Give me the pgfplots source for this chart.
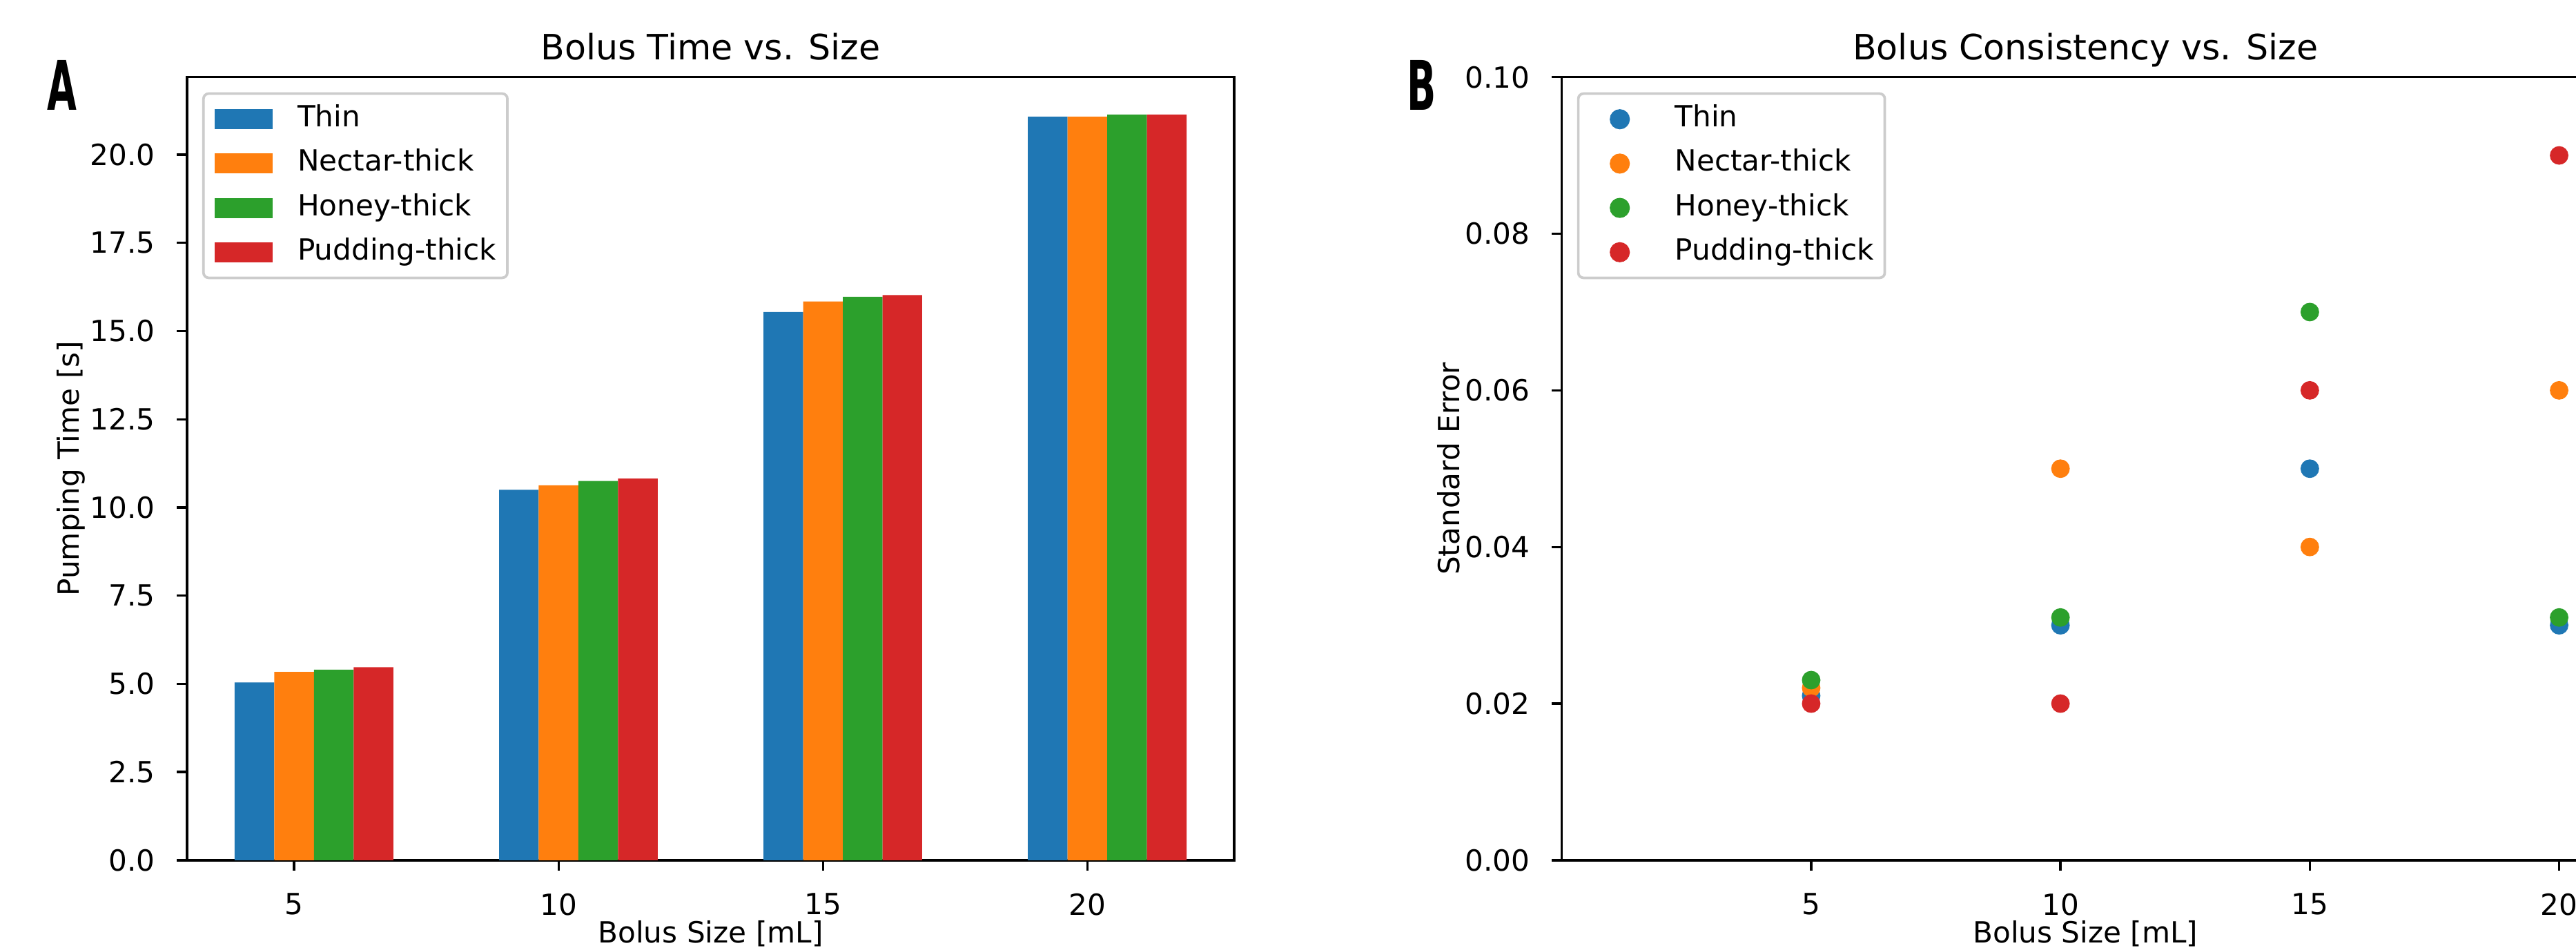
\documentclass[border=0pt]{standalone}
\usepackage{fontspec}
\setmainfont{DejaVu Sans}
\usepackage{pgfplots}
\pgfplotsset{compat=1.18}
\definecolor{c0}{HTML}{1F77B4}
\definecolor{c1}{HTML}{FF7F0E}
\definecolor{c2}{HTML}{2CA02C}
\definecolor{c3}{HTML}{D62728}
\newcommand{\fs}{\fontsize{11.3}{13.6}\selectfont}
\newcommand{\fst}{\fontsize{13.56}{16.3}\selectfont}
\pgfplotsset{
  barlegend/.style={legend image code/.code={\fill[##1, sharp corners] (0pt,-3.9pt) rectangle (22.6pt,3.9pt);}},
  dotlegend/.style={legend image code/.code={\path (0pt,0pt) (22.6pt,0pt);\draw[mark repeat=2, mark phase=2, ##1] plot coordinates {(0pt,0pt) (11.3pt,0pt) (22.6pt,0pt)};}},
  mpl/.style={
    scale only axis, width=406.5pt, height=303.9pt, anchor=south west,
    axis line style={line width=0.9pt, black},
    tick align=outside, major tick length=3.96pt,
    every tick/.style={black, line width=0.9pt},
    xtick pos=bottom, ytick pos=left,
    tick label style={font=\fs},
    /pgf/number format/assume math mode=true,
    xticklabel style={inner sep=0pt, anchor=north, yshift=-8.8pt},
    yticklabel style={inner sep=0pt, anchor=east, xshift=-8.3pt},
    xlabel style={font=\fs, at={(axis description cs:0.5,-0.0767)}, anchor=north, inner sep=0pt},
    ylabel style={font=\fs, at={(axis description cs:-0.0969,0.5)}, anchor=south, inner sep=0pt},
    every axis title shift=0pt,
    title style={font=\fst, at={(axis description cs:0.5,1.0224)}, anchor=base, inner sep=0pt},
    legend cell align=left,
    legend style={at={(axis description cs:0,1)}, anchor=north west, xshift=5.9pt, yshift=-5.9pt,
      draw=black!20, rounded corners=2pt, fill=white, line width=1pt,
      inner xsep=4.3pt, inner ysep=4.3pt, row sep=5.9pt, column sep=9.6pt, font=\fs,
      nodes={inner sep=0pt, text height=8.6pt, text depth=2.7pt}},
    scaled ticks=false,
  }
}
\begin{document}
\begin{tikzpicture}[x=1pt,y=1pt]
\begin{axis}[mpl, at={(72.6pt,33.8pt)},
  xmin=2.975, xmax=22.775, ymin=0, ymax=22.2,
  xtick={5,10,15,20},
  ytick={0,2.5,5,7.5,10,12.5,15,17.5,20},
  yticklabel style={/pgf/number format/.cd, fixed, fixed zerofill, precision=1},
  title={Bolus Time vs. Size},
  xlabel={Bolus Size [mL]},
  ylabel={Pumping Time [s]},
]
\addplot[ybar, bar width=0.75, bar shift=-0.75, fill=c0, draw=none, barlegend]
  coordinates {(5,5.04) (10,10.50) (15,15.54) (20,21.08)};
\addlegendentry{Thin}
\addplot[ybar, bar width=0.75, bar shift=0, fill=c1, draw=none, barlegend]
  coordinates {(5,5.34) (10,10.63) (15,15.84) (20,21.08)};
\addlegendentry{Nectar-thick}
\addplot[ybar, bar width=0.75, bar shift=0.75, fill=c2, draw=none, barlegend]
  coordinates {(5,5.40) (10,10.75) (15,15.97) (20,21.14)};
\addlegendentry{Honey-thick}
\addplot[ybar, bar width=0.75, bar shift=1.5, fill=c3, draw=none, barlegend]
  coordinates {(5,5.47) (10,10.82) (15,16.02) (20,21.14)};
\addlegendentry{Pudding-thick}
\end{axis}
\begin{axis}[mpl, at={(606.3pt,33.8pt)},
  xmin=0, xmax=21, ymin=0, ymax=0.1,
  xtick={5,10,15,20},
  ytick={0,0.02,0.04,0.06,0.08,0.1},
  yticklabel style={/pgf/number format/.cd, fixed, fixed zerofill, precision=2},
  title={Bolus Consistency vs. Size},
  xlabel={Bolus Size [mL]},
  ylabel={Standard Error},
]
\addplot[only marks, mark=*, color=c0, mark size=3.4pt, mark options={draw=none, fill=c0}, dotlegend]
  coordinates {(5,0.021) (10,0.030) (15,0.050) (20,0.030)};
\addlegendentry{Thin}
\addplot[only marks, mark=*, color=c1, mark size=3.4pt, mark options={draw=none, fill=c1}, dotlegend]
  coordinates {(5,0.022) (10,0.050) (15,0.040) (20,0.060)};
\addlegendentry{Nectar-thick}
\addplot[only marks, mark=*, color=c2, mark size=3.4pt, mark options={draw=none, fill=c2}, dotlegend]
  coordinates {(5,0.023) (10,0.031) (15,0.070) (20,0.031)};
\addlegendentry{Honey-thick}
\addplot[only marks, mark=*, color=c3, mark size=3.4pt, mark options={draw=none, fill=c3}, dotlegend]
  coordinates {(5,0.020) (10,0.020) (15,0.060) (20,0.090)};
\addlegendentry{Pudding-thick}
\end{axis}
\node[font=\bfseries\fontsize{26.5}{30}\selectfont, xscale=0.56, inner sep=0pt] at (24.2pt,334.5pt) {A};
\node[font=\bfseries\fontsize{26.5}{30}\selectfont, xscale=0.56, inner sep=0pt] at (551.8pt,334.5pt) {B};
\pgfresetboundingbox
\useasboundingbox (0pt,0pt) rectangle (1000pt,367.63pt);
\end{tikzpicture}
\end{document}
